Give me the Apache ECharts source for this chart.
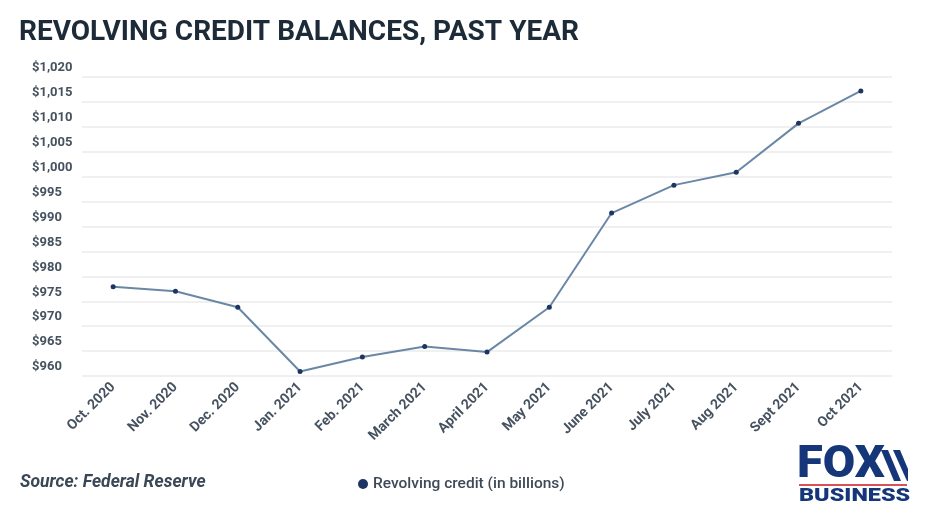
<!DOCTYPE html>
<html>
<head>
<meta charset="utf-8">
<script src="https://cdn.jsdelivr.net/npm/echarts@6/dist/echarts.min.js"></script>
<style>
  html, body { margin: 0; padding: 0; background: #ffffff; }
  #chart { width: 932px; height: 524px; }
</style>
</head>
<body>
<div id="chart"></div>
<script>
// Monthly revolving consumer credit, billions of dollars
const months = ['Oct. 2020', 'Nov. 2020', 'Dec. 2020', 'Jan. 2021', 'Feb. 2021', 'March 2021',
  'April 2021', 'May 2021', 'June 2021', 'July 2021', 'Aug 2021', 'Sept 2021', 'Oct 2021'];
const revolvingCredit = [977.9, 977.0, 973.8, 960.9, 963.8, 965.9, 964.8, 973.8, 992.7, 998.3, 1000.9, 1010.7, 1017.2];
const yMin = 960;
const yMax = 1020;
const yStep = 5;

const seriesName = 'Revolving credit (in billions)';
const navy = '#1c3561';
const labelGrey = '#46525f';

function dollars(v) {
  return '$' + v.toLocaleString('en-US');
}

const chart = echarts.init(document.getElementById('chart'), null, { renderer: 'canvas' });

chart.setOption({
  backgroundColor: '#ffffff',
  animation: false,
  title: {
    text: 'REVOLVING CREDIT BALANCES, PAST YEAR',
    left: 14,
    top: 14,
    textStyle: {
      fontFamily: 'Roboto',
      fontWeight: 'bold',
      fontSize: 28,
      color: '#1d2a38'
    }
  },
  legend: {
    data: [{ name: seriesName, icon: 'circle' }],
    left: 353,
    top: 471,
    itemWidth: 10,
    itemHeight: 10,
    itemGap: 8,
    textStyle: {
      fontFamily: 'Roboto',
      fontWeight: 500,
      fontSize: 15.5,
      color: '#3e4a57'
    }
  },
  grid: {
    left: 82,
    right: 40,
    top: 77,
    bottom: 148
  },
  xAxis: {
    type: 'category',
    data: months,
    boundaryGap: true,
    axisLine: { show: false },
    axisTick: { show: false },
    axisLabel: {
      rotate: 45,
      margin: 9,
      interval: 0,
      fontFamily: 'Roboto',
      fontWeight: 'bold',
      fontSize: 14,
      color: labelGrey
    }
  },
  yAxis: {
    type: 'value',
    min: yMin,
    max: yMax,
    interval: yStep,
    axisLine: { show: false },
    axisTick: { show: false },
    axisLabel: {
      showMinLabel: true,
      showMaxLabel: true,
      align: 'left',
      margin: 50,
      // labels rest on top of their gridline
      verticalAlign: 'bottom',
      lineHeight: 18,
      fontFamily: 'Roboto',
      fontWeight: 'bold',
      fontSize: 13,
      color: labelGrey,
      formatter: dollars
    },
    splitLine: {
      show: true,
      lineStyle: { color: '#ebebeb', width: 1.5 }
    }
  },
  series: [{
    name: seriesName,
    type: 'line',
    data: revolvingCredit,
    symbol: 'circle',
    symbolSize: 5,
    itemStyle: { color: navy },
    lineStyle: { color: '#6a87a6', width: 2 },
    emphasis: { disabled: true }
  }],
  graphic: [
    {
      type: 'text',
      left: 20,
      top: 474,
      style: {
        text: 'Source: Federal Reserve',
        fontFamily: 'Roboto',
        fontStyle: 'italic',
        fontWeight: 'bold',
        fontSize: 17.5,
        fill: '#3a4756'
      }
    },
    {
      type: 'group',
      left: 797,
      top: 444,
      children: [
        {
          type: 'text',
          x: 0,
          y: 0,
          scaleX: 1.07,
          style: {
            text: 'FOX',
            fontFamily: 'Roboto',
            fontWeight: 900,
            fontSize: 44,
            fill: '#16367a'
          }
        },
        {
          type: 'polygon',
          shape: { points: [[84, 6], [91, 6], [104, 37], [97, 37]] },
          style: { fill: '#16367a' }
        },
        {
          type: 'polygon',
          shape: { points: [[96, 6], [103, 6], [111, 25], [111, 37], [110, 37]] },
          style: { fill: '#16367a' }
        },
        {
          type: 'rect',
          shape: { x: 2, y: 40, width: 108, height: 2 },
          style: { fill: '#d9505a' }
        },
        {
          type: 'text',
          x: 2,
          y: 43,
          scaleX: 1.3,
          style: {
            text: 'BUSINESS',
            fontFamily: 'Roboto',
            fontWeight: 900,
            fontSize: 18,
            fill: '#16367a'
          }
        }
      ]
    }
  ]
});
</script>
</body>
</html>
